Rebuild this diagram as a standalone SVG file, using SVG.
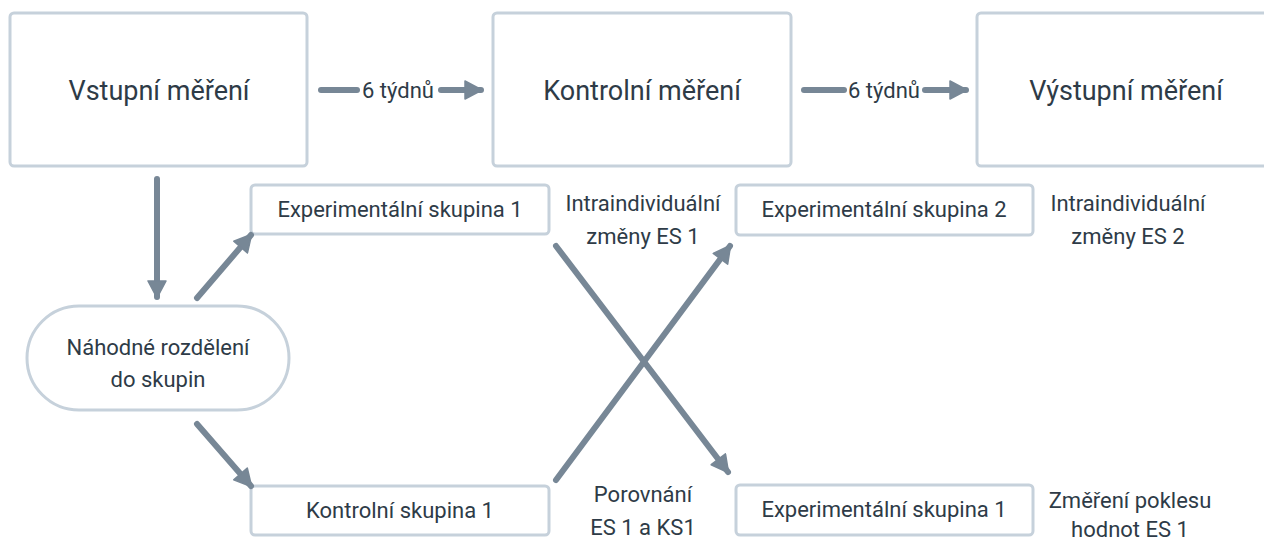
<svg xmlns="http://www.w3.org/2000/svg" width="1264" height="540" viewBox="0 0 1264 540">
<style>
.box{fill:#fff;stroke:#c6d1db;stroke-width:3}
.t{font-family:Roboto,"Liberation Sans",sans-serif;fill:#2e3b47;text-anchor:middle}
.big{font-size:27px}
.sm{font-size:22px}
.ln{stroke:#778796;stroke-width:6;stroke-linecap:round;fill:none}
</style>
<defs>
<marker id="ah" markerUnits="userSpaceOnUse" viewBox="0 0 20 20" refX="18" refY="10" markerWidth="20" markerHeight="20" orient="auto">
<path d="M2,1 L19,10 L2,19 Z" fill="#778796" stroke="#778796" stroke-width="1.5" stroke-linejoin="round"/>
</marker>
</defs>
<g id="n-vstup"><rect class="box" x="10" y="13" width="297" height="153" rx="4"/><text class="t big" x="159" y="100">Vstupní měření</text></g>
<g id="n-kontrol"><rect class="box" x="493" y="13" width="298" height="153" rx="4"/><text class="t big" x="642" y="100">Kontrolní měření</text></g>
<g id="n-vystup"><rect class="box" x="977" y="13" width="298" height="153" rx="4"/><text class="t big" x="1126" y="100">Výstupní měření</text></g>
<g id="n-random"><rect class="box" x="27" y="306" width="262" height="104" rx="52"/><text class="t sm" x="158" y="355">Náhodné rozdělení</text><text class="t sm" x="158" y="387">do skupin</text></g>
<g id="n-es1"><rect class="box" x="251" y="185" width="298" height="49" rx="4"/><text class="t sm" x="400" y="217">Experimentální skupina 1</text></g>
<g id="n-ks1"><rect class="box" x="251" y="486" width="298" height="49" rx="4"/><text class="t sm" x="400" y="518">Kontrolní skupina 1</text></g>
<g id="n-es2"><rect class="box" x="736" y="185" width="297" height="50" rx="4"/><text class="t sm" x="884" y="217">Experimentální skupina 2</text></g>
<g id="n-es1b"><rect class="box" x="736" y="485" width="297" height="50" rx="4"/><text class="t sm" x="884" y="517">Experimentální skupina 1</text></g>
<g id="labels">
<text class="t sm" x="643" y="211">Intraindividuální</text>
<text class="t sm" x="643" y="244">změny ES 1</text>
<text class="t sm" x="1128" y="211">Intraindividuální</text>
<text class="t sm" x="1128" y="244">změny ES 2</text>
<text class="t sm" x="643" y="502">Porovnání</text>
<text class="t sm" x="643" y="535">ES 1 a KS1</text>
<text class="t sm" x="1130" y="508">Změření poklesu</text>
<text class="t sm" x="1130" y="537">hodnot ES 1</text>
</g>
<g id="connectors">
<line class="ln" x1="321" y1="90" x2="357" y2="90"/>
<text class="t sm" x="398" y="98">6 týdnů</text>
<line class="ln" x1="441" y1="90" x2="481" y2="90" marker-end="url(#ah)"/>
<line class="ln" x1="804" y1="90" x2="844" y2="90"/>
<text class="t sm" x="884" y="98">6 týdnů</text>
<line class="ln" x1="925" y1="90" x2="966" y2="90" marker-end="url(#ah)"/>
<line class="ln" x1="157" y1="179" x2="157" y2="297" marker-end="url(#ah)"/>
<line class="ln" x1="197" y1="298" x2="251" y2="235" marker-end="url(#ah)"/>
<line class="ln" x1="197" y1="424" x2="251" y2="486" marker-end="url(#ah)"/>
<line class="ln" x1="556" y1="246" x2="728" y2="472" marker-end="url(#ah)"/>
<line class="ln" x1="556" y1="480" x2="730" y2="246" marker-end="url(#ah)"/>
</g>
</svg>
